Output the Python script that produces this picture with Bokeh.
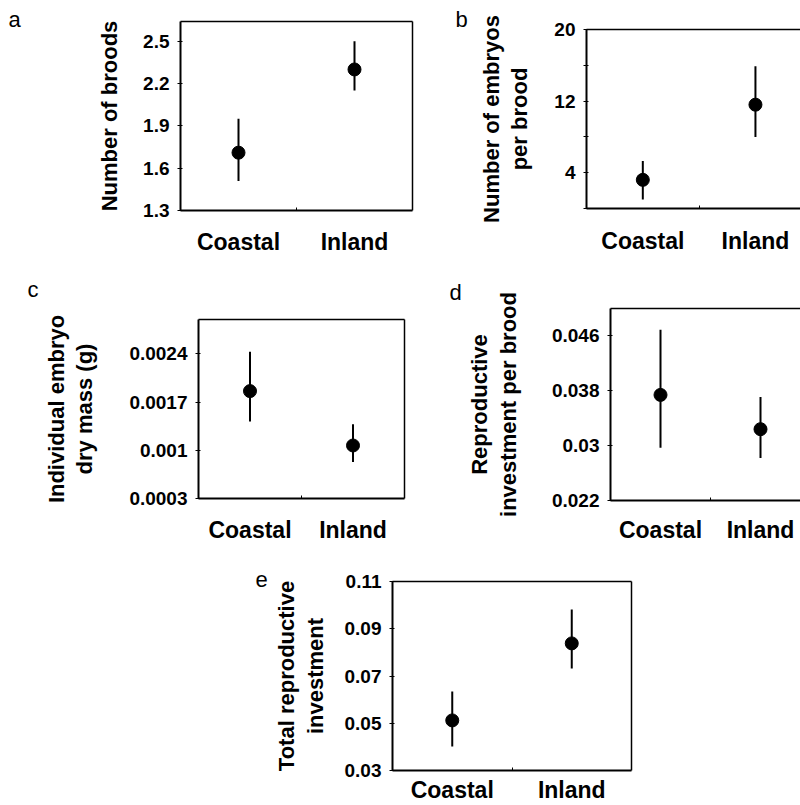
from bokeh.plotting import figure
from bokeh.models import Range1d, FixedTicker, LinearAxis, Label, Spacer
from bokeh.layouts import column, row
from bokeh.embed import file_html
from bokeh.resources import INLINE

FONT = "Liberation Sans"

categories = ["Coastal", "Inland"]

# a: number of broods
broods_mean = [1.71, 2.30]
broods_lo = [1.51, 2.15]
broods_hi = [1.95, 2.50]
broods_ticks = [1.3, 1.6, 1.9, 2.2, 2.5]
broods_labels = ["1.3", "1.6", "1.9", "2.2", "2.5"]

# b: number of embryos per brood
embryos_mean = [3.2, 11.6]
embryos_lo = [1.0, 8.0]
embryos_hi = [5.3, 15.9]
embryos_ticks = [0, 4, 8, 12, 16, 20]
embryos_labels = ["", "4", "", "12", "", "20"]

# c: individual embryo dry mass (g)
mass_mean = [0.00186, 0.00107]
mass_lo = [0.00142, 0.00083]
mass_hi = [0.00243, 0.00138]
mass_ticks = [0.0003, 0.001, 0.0017, 0.0024]
mass_labels = ["0.0003", "0.001", "0.0017", "0.0024"]

# d: reproductive investment per brood
rib_mean = [0.0374, 0.0324]
rib_lo = [0.0297, 0.0282]
rib_hi = [0.0469, 0.0371]
rib_ticks = [0.022, 0.03, 0.038, 0.046]
rib_labels = ["0.022", "0.03", "0.038", "0.046"]

# e: total reproductive investment
tri_mean = [0.0512, 0.0838]
tri_lo = [0.0402, 0.0732]
tri_hi = [0.0634, 0.0981]
tri_ticks = [0.03, 0.05, 0.07, 0.09, 0.11]
tri_labels = ["0.03", "0.05", "0.07", "0.09", "0.11"]


def border_axis():
    return LinearAxis(ticker=FixedTicker(ticks=[]), major_label_text_font_size="0px",
                      axis_line_width=1.5, major_tick_line_color=None, minor_tick_line_color=None,
                      major_tick_in=0, major_tick_out=0, major_label_standoff=0)


def panel(ylabel, mean, lo, hi, yrange, yticks, ylabels,
          width, height, borders, xend, right_border, ylab_standoff, xlab_standoff):
    xs = [i + 1 for i in range(len(categories))]
    bl, br, bt, bb = borders
    p = figure(width=width, height=height, output_backend="svg", toolbar_location=None,
               x_range=Range1d(0.5, xend), y_range=Range1d(*yrange),
               min_border_left=bl, min_border_right=br, min_border_top=bt, min_border_bottom=bb,
               background_fill_color="white", border_fill_color="white")
    p.frame_align = False
    p.title_location = None
    p.xgrid.visible = False
    p.ygrid.visible = False
    p.outline_line_color = None

    p.segment(x0=xs, y0=lo, x1=xs, y1=hi, line_color="black", line_width=2)
    p.scatter(x=xs, y=mean, size=13, color="black")

    xa = p.xaxis[0]
    xa.ticker = FixedTicker(ticks=xs, minor_ticks=[1.5])
    xa.major_label_overrides = {x: c for x, c in zip(xs, categories)}
    xa.major_tick_line_color = None
    xa.major_tick_in = 0
    xa.major_tick_out = 0
    xa.minor_tick_in = 3
    xa.minor_tick_out = 0
    xa.minor_tick_line_width = 1
    xa.axis_line_width = 2
    xa.axis_label = None
    xa.axis_label_standoff = 0
    xa.major_label_standoff = xlab_standoff
    xa.major_label_text_font = FONT
    xa.major_label_text_font_style = "bold"
    xa.major_label_text_font_size = "23px"
    xa.major_label_text_color = "black"

    ya = p.yaxis[0]
    ya.ticker = FixedTicker(ticks=yticks, minor_ticks=[])
    ya.major_label_overrides = {t: l for t, l in zip(yticks, ylabels)}
    ya.major_tick_in = 2
    ya.major_tick_out = 3
    ya.major_tick_line_width = 1
    ya.axis_line_width = 2
    ya.major_label_standoff = 8
    ya.major_label_text_font = FONT
    ya.major_label_text_font_style = "bold"
    ya.major_label_text_font_size = "19px"
    ya.major_label_text_color = "black"
    ya.axis_label = ylabel
    ya.axis_label_text_font = FONT
    ya.axis_label_text_font_style = "bold"
    ya.axis_label_text_font_size = "22px"
    ya.axis_label_text_color = "black"
    ya.axis_label_standoff = ylab_standoff
    ya.axis_label_text_line_height = 1.15

    p.add_layout(border_axis(), "above")
    if right_border:
        p.add_layout(border_axis(), "right")
    return p


def letter_box(text, width, height, x, y):
    f = figure(width=width, height=height, output_backend="svg", toolbar_location=None,
               x_axis_location=None, y_axis_location=None, min_border=0,
               background_fill_color="white", border_fill_color="white")
    f.frame_align = False
    f.title_location = None
    f.xgrid.visible = False
    f.ygrid.visible = False
    f.outline_line_color = None
    f.add_layout(Label(x=x, y=y, x_units="screen", y_units="screen",
                       text=text, text_font=FONT, text_font_size="22px",
                       text_baseline="alphabetic", text_color="black"))
    return f


la = letter_box("a", 30, 265, 8, 246)
pa = panel("Number of broods", broods_mean, broods_lo, broods_hi,
           (1.3, 2.64), broods_ticks, broods_labels,
           390, 265, (150, 8, 21, 55), 2.5, True, 18, 18)
lb = letter_box("b", 50, 265, 35, 246)
pb = panel("Number of embryos\nper brood", embryos_mean, embryos_lo, embryos_hi,
           (0, 20), embryos_ticks, embryos_labels,
           330, 265, (116, 0, 29, 57), 2.40, False, 19, 19)

lc = letter_box("c", 40, 280, 27, 256)
pc = panel("Individual embryo\ndry mass (g)", mass_mean, mass_lo, mass_hi,
           (0.0003, 0.0029), mass_ticks, mass_labels,
           380, 280, (148, 16, 54, 47), 2.5, True, 29, 18)
ld = letter_box("d", 44, 280, 29, 253)
pd = panel("Reproductive\ninvestment per brood", rib_mean, rib_lo, rib_hi,
           (0.022, 0.050), rib_ticks, rib_labels,
           336, 280, (129, 0, 43, 45), 2.40, False, 28, 16)

le = letter_box("e", 20, 260, 5, 226)
pe = panel("Total reproductive\ninvestment", tri_mean, tri_lo, tri_hi,
           (0.03, 0.11), tri_ticks, tri_labels,
           380, 260, (108, 19, 36, 35), 2.5, True, 14, 6)

layout = column(row(la, pa, lb, pb, spacing=0),
                row(lc, pc, ld, pd, spacing=0),
                row(Spacer(width=250, height=260), le, pe, spacing=0), spacing=0)

open("out.html", "w").write(file_html(layout, INLINE))
